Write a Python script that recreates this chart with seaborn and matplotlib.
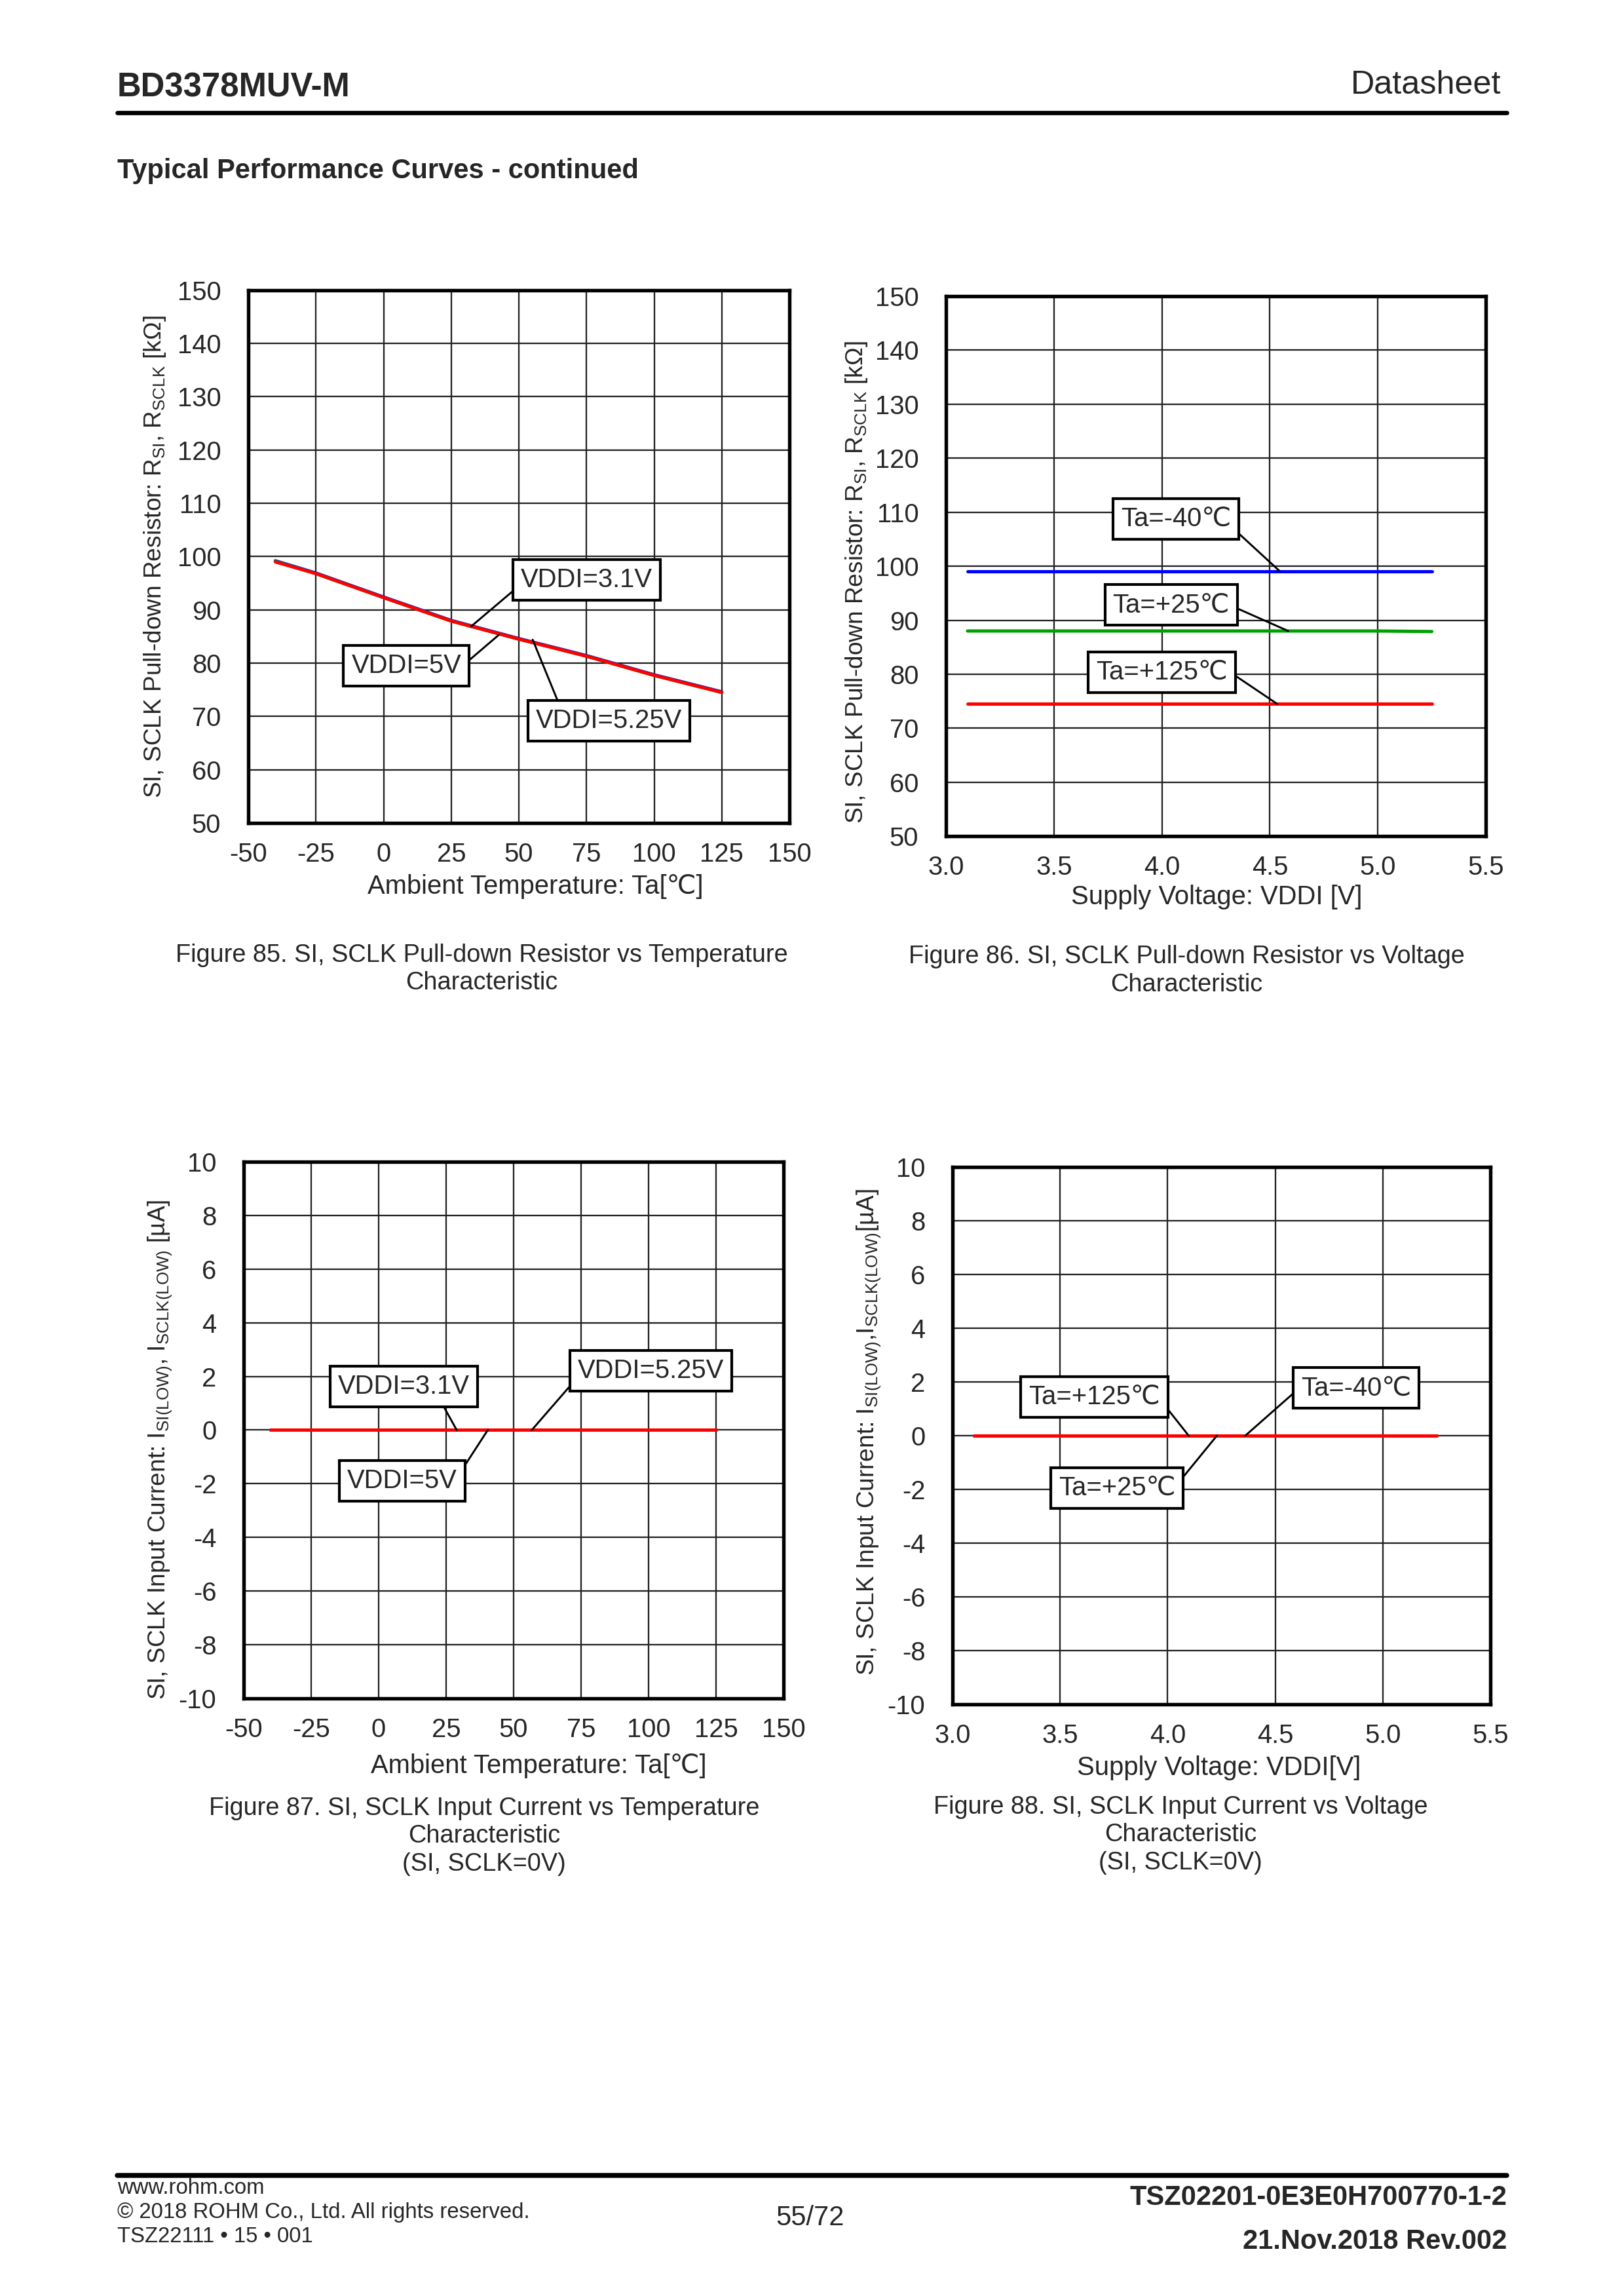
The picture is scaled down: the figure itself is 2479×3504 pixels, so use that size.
import numpy as np
import pandas as pd
import matplotlib
matplotlib.use('Agg')
import matplotlib.pyplot as plt
import seaborn as sns

# --- values
temp = [-40, -25, 0, 25, 50, 75, 100, 125]
res_t_31 = [99.2, 96.9, 92.4, 88.0, 84.6, 81.4, 77.8, 74.6]
res_t_50 = [99.1, 96.8, 92.3, 87.9, 84.5, 81.3, 77.7, 74.5]
res_t_525 = [99.0, 96.8, 92.3, 87.9, 84.5, 81.3, 77.7, 74.5]

volt = [3.1, 3.3, 3.5, 4.0, 4.5, 5.0, 5.25]
res_v_m40 = [99.1, 99.1, 99.1, 99.1, 99.1, 99.1, 99.1]
res_v_p25 = [88.0, 88.0, 88.0, 88.0, 88.0, 88.0, 87.9]
res_v_p125 = [74.5, 74.5, 74.5, 74.5, 74.5, 74.5, 74.5]

cur_t_31 = [0.0, 0.0, 0.0, 0.0, 0.0, 0.0, 0.0, 0.0]
cur_t_50 = [0.0, 0.0, 0.0, 0.0, 0.0, 0.0, 0.0, 0.0]
cur_t_525 = [0.0, 0.0, 0.0, 0.0, 0.0, 0.0, 0.0, 0.0]

cur_v_m40 = [0.0, 0.0, 0.0, 0.0, 0.0, 0.0, 0.0]
cur_v_p25 = [0.0, 0.0, 0.0, 0.0, 0.0, 0.0, 0.0]
cur_v_p125 = [0.0, 0.0, 0.0, 0.0, 0.0, 0.0, 0.0]

temp_ticks = [-50, -25, 0, 25, 50, 75, 100, 125, 150]
volt_ticks = [3.0, 3.5, 4.0, 4.5, 5.0, 5.5]
res_ticks = [50, 60, 70, 80, 90, 100, 110, 120, 130, 140, 150]
cur_ticks = [-10, -8, -6, -4, -2, 0, 2, 4, 6, 8, 10]

sns.set_style('white')
plt.rcParams['font.family'] = ['Liberation Sans', 'DejaVu Sans']
plt.rcParams['mathtext.fontset'] = 'custom'
plt.rcParams['mathtext.rm'] = 'Liberation Sans'
plt.rcParams['mathtext.it'] = 'Liberation Sans:italic'
plt.rcParams['mathtext.bf'] = 'Liberation Sans:bold'

FS = 9.6
YFS = 8.9
BLUE, GREEN, RED = '#0000ff', '#00a000', '#ff0000'

fig = plt.figure(figsize=(2479/300, 3504/300), dpi=300)


def setup(ax, xt, yt, xfmt, xlab, ylab, xl_pos, yl_pos):
    ax.set_xlim(xt[0], xt[-1])
    ax.set_ylim(yt[0], yt[-1])
    ax.set_xticks(xt)
    ax.set_yticks(yt)
    ax.set_xticklabels([xfmt.format(v) for v in xt], fontsize=FS)
    ax.set_yticklabels([str(v) for v in yt], fontsize=FS)
    ax.tick_params(length=0, pad=7, axis='x')
    ax.tick_params(length=0, pad=10, axis='y')
    ax.grid(True, color='#222222', lw=0.55)
    ax.set_axisbelow(True)
    for s in ax.spines.values():
        s.set_color('black')
        s.set_linewidth(1.3)
    ax.set_xlabel(xlab, fontsize=FS)
    ax.set_ylabel(ylab, fontsize=YFS)
    ax.xaxis.set_label_coords(*xl_pos)
    ax.xaxis.label.set_va('center')
    ax.yaxis.set_label_coords(*yl_pos)
    ax.yaxis.label.set_va('center')


def tag(ax, txt, xy, xytext, relpos):
    ax.annotate(txt, xy=xy, xytext=xytext, ha='center', va='center', fontsize=FS,
                bbox=dict(boxstyle='square,pad=0.3', fc='white', ec='black', lw=1.0),
                arrowprops=dict(arrowstyle='-', color='black', lw=0.7, relpos=relpos,
                                shrinkA=0, shrinkB=0))


ylab_r = r'SI, SCLK Pull-down Resistor: R$_{\mathrm{SI}}$, R$_{\mathrm{SCLK}}$ [kΩ]'

# Figure 85
ax1 = fig.add_axes([0.1529, 0.6416, 0.3332, 0.2320])
sns.lineplot(x=temp, y=res_t_31, color=BLUE, lw=1.2, ax=ax1)
sns.lineplot(x=temp, y=res_t_50, color=GREEN, lw=1.2, ax=ax1)
sns.lineplot(x=temp, y=res_t_525, color=RED, lw=1.2, ax=ax1)
setup(ax1, temp_ticks, res_ticks, '{}', 'Ambient Temperature: Ta[℃]', ylab_r,
      (0.53, -0.119), (-0.172, 0.5))
tag(ax1, 'VDDI=3.1V', (32.4, 86.9), (75, 95.6), (0, 0.32))
tag(ax1, 'VDDI=5V', (42.6, 85.3), (8.4, 79.5), (1, 0.45))
tag(ax1, 'VDDI=5.25V', (55.1, 84.4), (83.3, 69.2), (0.17, 1))

# Figure 86
ax2 = fig.add_axes([0.5825, 0.6358, 0.3324, 0.2352])
sns.lineplot(x=volt, y=res_v_m40, color=BLUE, lw=1.2, ax=ax2)
sns.lineplot(x=volt, y=res_v_p25, color=GREEN, lw=1.2, ax=ax2)
sns.lineplot(x=volt, y=res_v_p125, color=RED, lw=1.2, ax=ax2)
setup(ax2, volt_ticks, res_ticks, '{:.1f}', 'Supply Voltage: VDDI [V]', ylab_r,
      (0.502, -0.113), (-0.166, 0.47))
tag(ax2, 'Ta=-40℃', (4.545, 99.1), (4.065, 108.75), (1, 0.2))
tag(ax2, 'Ta=+25℃', (4.585, 88.0), (4.043, 92.8), (1, 0.5))
tag(ax2, 'Ta=+125℃', (4.534, 74.5), (4.0, 80.35), (1, 0.57))

# Figure 87
ax3 = fig.add_axes([0.1501, 0.2603, 0.3324, 0.2337])
sns.lineplot(x=temp, y=cur_t_50, color=GREEN, lw=1.2, ax=ax3)
sns.lineplot(x=temp, y=cur_t_31, color=BLUE, lw=1.2, ax=ax3)
sns.lineplot(x=temp, y=cur_t_525, color=RED, lw=1.2, ax=ax3)
setup(ax3, temp_ticks, cur_ticks, '{}', 'Ambient Temperature: Ta[℃]',
      r'SI, SCLK Input Current: I$_{\mathrm{SI(LOW)}}$, I$_{\mathrm{SCLK(LOW)}}$ [µA]',
      (0.546, -0.126), (-0.155, 0.464))
tag(ax3, 'VDDI=3.1V', (28.9, 0), (9.35, 1.62), (0.77, 0))
tag(ax3, 'VDDI=5.25V', (56.7, 0), (100.8, 2.22), (0, 0.23))
tag(ax3, 'VDDI=5V', (40.4, 0), (8.75, -1.9), (1, 0.66))

# Figure 88
ax4 = fig.add_axes([0.5865, 0.2577, 0.3312, 0.2340])
sns.lineplot(x=volt, y=cur_v_p25, color=GREEN, lw=1.2, ax=ax4)
sns.lineplot(x=volt, y=cur_v_m40, color=BLUE, lw=1.2, ax=ax4)
sns.lineplot(x=volt, y=cur_v_p125, color=RED, lw=1.2, ax=ax4)
setup(ax4, volt_ticks, cur_ticks, '{:.1f}', 'Supply Voltage: VDDI[V]',
      r'SI, SCLK Input Current: I$_{\mathrm{SI(LOW)}}$,I$_{\mathrm{SCLK(LOW)}}$[µA]',
      (0.495, -0.118), (-0.155, 0.507))
tag(ax4, 'Ta=+125℃', (4.098, 0), (3.66, 1.45), (1, 0.38))
tag(ax4, 'Ta=-40℃', (4.361, 0), (4.877, 1.77), (0, 0.57))
tag(ax4, 'Ta=+25℃', (4.229, 0), (3.765, -1.95), (1, 0.57))

# page header / captions / footer
W, H = 2479.0, 3504.0
def px(x, y):
    return x / W, 1 - y / H

fig.text(*px(179, 134), 'BD3378MUV-M', fontsize=12.2, fontweight='bold', va='center', ha='left')
fig.text(*px(2291, 130), 'Datasheet', fontsize=12.1, va='center', ha='right')
fig.add_artist(plt.Line2D([179/W, 2300/W], [1-172/H, 1-172/H], color='black', lw=1.6))
fig.text(*px(179, 261), 'Typical Performance Curves - continued', fontsize=10, fontweight='bold',
         va='center', ha='left')

caps = [
    (735, [1458, 1500], ['Figure 85. SI, SCLK Pull-down Resistor vs Temperature', 'Characteristic']),
    (1811, [1460, 1503], ['Figure 86. SI, SCLK Pull-down Resistor vs Voltage', 'Characteristic']),
    (739, [2760, 2802, 2845], ['Figure 87. SI, SCLK Input Current vs Temperature', 'Characteristic',
                               '(SI, SCLK=0V)']),
    (1802, [2758, 2800, 2843], ['Figure 88. SI, SCLK Input Current vs Voltage', 'Characteristic',
                                '(SI, SCLK=0V)']),
]
for cx, ys, lines in caps:
    for cy, t in zip(ys, lines):
        fig.text(*px(cx, cy), t, fontsize=9.1, ha='center', va='center')

fig.add_artist(plt.Line2D([179/W, 2300/W], [1-3320/H, 1-3320/H], color='black', lw=1.8))
fig.text(*px(179, 3340), 'www.rohm.com', fontsize=7.9, va='center', ha='left')
fig.text(*px(179, 3376), '© 2018 ROHM Co., Ltd. All rights reserved.', fontsize=7.9, va='center', ha='left')
fig.text(*px(179, 3414), 'TSZ22111 • 15 • 001', fontsize=7.9, va='center', ha='left')
fig.text(*px(1237, 3385), '55/72', fontsize=10, va='center', ha='center')
fig.text(*px(2300, 3354), 'TSZ02201-0E3E0H700770-1-2', fontsize=10, fontweight='bold', va='center', ha='right')
fig.text(*px(2300, 3421), '21.Nov.2018 Rev.002', fontsize=10, fontweight='bold', va='center', ha='right')

fig.savefig('out.png', dpi=300, facecolor='white')
